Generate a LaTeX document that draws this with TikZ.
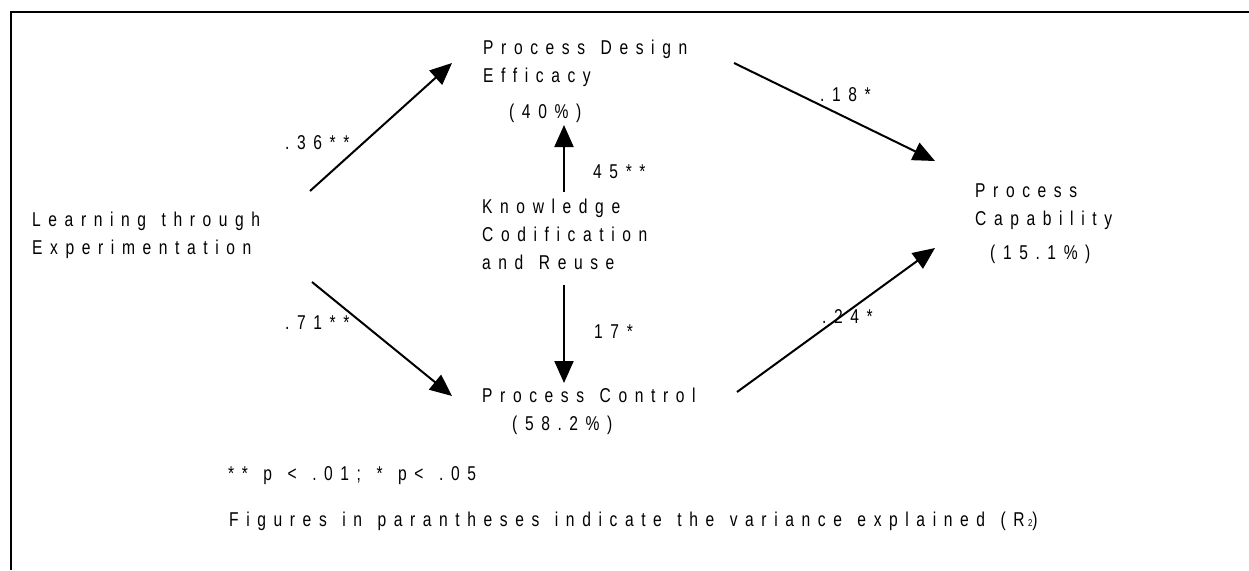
\documentclass[tikz,border=0pt]{standalone}
\usepackage{fontspec}
\setmainfont{Liberation Sans}[FakeStretch=0.78, LetterSpace=38, WordSpace=1.3]
\usetikzlibrary{arrows.meta,calc}

\begin{document}
\begin{tikzpicture}[x=1pt,y=-1pt,
  % multi-line nodes: the base anchor sits on the last line
  txt/.style={anchor=base west, inner sep=0pt, align=left,
              font=\fontsize{20}{28}\selectfont},
  coef/.style={txt},
  link/.style={line width=2pt, -{Triangle[length=22pt,width=19pt]}},
]
\useasboundingbox (0,0) rectangle (1249,570);
% frame
\draw[line width=2.5pt] (11,570) -- (11,12) -- (1249,12);

% constructs
\node[txt] (pde)  at (483,82)  {Process Design\\Efficacy};
\node[txt] (pdeR) at (509,118) {(40\%)};
\node[txt] (kcr)  at (482,269) {Knowledge\\Codification\\and Reuse};
\node[txt] (pc)   at (482,402) {Process Control};
\node[txt] (pcR)  at (512,430) {(58.2\%)};
\node[txt] (lte)  at (32,254)  {Learning through\\Experimentation};
\node[txt] (cap)  at (975,225) {Process\\Capability};
\node[txt] (capR) at (990,259) {(15.1\%)};

% path coefficients
\node[coef] (c1) at (285,149) {.36**};
\node[coef] (c2) at (285,329) {.71**};
\node[coef] (c3) at (593,178) {45**};
\node[coef] (c4) at (594,338) {17*};
\node[coef] (c5) at (820,101) {.18*};
\node[coef] (c6) at (822,323) {.24*};

% notes
\node[txt] (n1) at (228,480) {** p < .01; * p< .05};
\node[txt] (n2) at (229,526) {Figures in parantheses indicate the variance explained (R\,{\fontsize{10}{10}\selectfont 2})};

% paths
\draw[link] ($(lte.base west)+(278,-63)$) -- ($(pde.base west)+(-31,-19)$);
\draw[link] ($(lte.base west)+(280,28)$)  -- ($(pc.base west)+(-30,-6)$);
\draw[link] ($(kcr.base west)+(82,-77)$)  -- ($(pdeR.base west)+(55,7)$);
\draw[link] ($(kcr.base west)+(82,16)$)   -- ($(pc.base west)+(82,-19)$);
\draw[link] ($(pde.base west)+(251,-19)$) -- ($(cap.base west)+(-40,-64)$);
\draw[link] ($(pc.base west)+(255,-10)$)  -- ($(cap.base west)+(-40,23)$);
\end{tikzpicture}
\end{document}
